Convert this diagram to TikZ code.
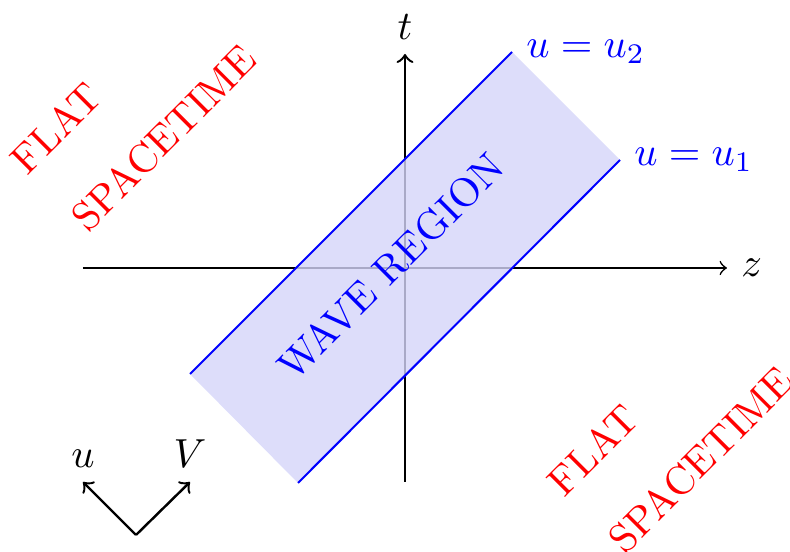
\documentclass[tikz,border=0pt]{standalone}
\usepackage{tikz}
\definecolor{wavefill}{RGB}{212,212,249}
\tikzset{
  axis/.style={->},
  flatlabel/.style={text=red, rotate=45, inner sep=0pt},
  wavelabel/.style={text=blue, rotate=45, inner sep=0pt},
  edgeline/.style={draw=blue, line width=0.5pt},
  basisarrow/.style={->, semithick},
}
\begin{document}
\begin{tikzpicture}[x=0.2463pt, y=-0.2463pt]
\useasboundingbox (0,0) rectangle (790,552);
\clip (0,0) rectangle (790,552);
% axes
\coordinate (zL) at (83,268);
\coordinate (zR) at (727,268);
\coordinate (tB) at (405,482);
\coordinate (tT) at (405,54);
\draw[axis] (zL) -- (zR) node[right] (zlab) {$z$};
\draw[axis, semithick] (tB) -- (tT) node[above] (tlab) {$t$};
% wave region
\coordinate (A) at (190,374);
\coordinate (B) at (512,52);
\coordinate (C) at (620,160);
\coordinate (D) at (298,483);
\fill[wavefill, fill opacity=0.8] (A) -- (B) -- (C) -- (D) -- cycle;
\draw[edgeline] (A) -- (B);
\draw[edgeline] (D) -- (C);
\node[right, text=blue] (u2) at (B) {$u=u_2$};
\node[right, text=blue] (u1) at (C) {$u=u_1$};
\node[wavelabel] (wave) at (391,266.5) {WAVE REGION};
% flat spacetime labels
\node[flatlabel] (flat1) at (56,128) {FLAT};
\node[flatlabel] (space1) at (164,138) {SPACETIME};
\node[flatlabel] (flat2) at (593,450) {FLAT};
\node[flatlabel] (space2) at (701,460) {SPACETIME};
% u, V directions
\coordinate (O) at (136,535);
\coordinate (uT) at (83,482);
\coordinate (VT) at (190,482);
\draw[basisarrow] (O) -- (uT);
\draw[basisarrow] (O) -- (VT);
\node[above] (ulab) at (uT) {$u$};
\node[above] (Vlab) at (VT) {$V$};
\end{tikzpicture}
\end{document}
